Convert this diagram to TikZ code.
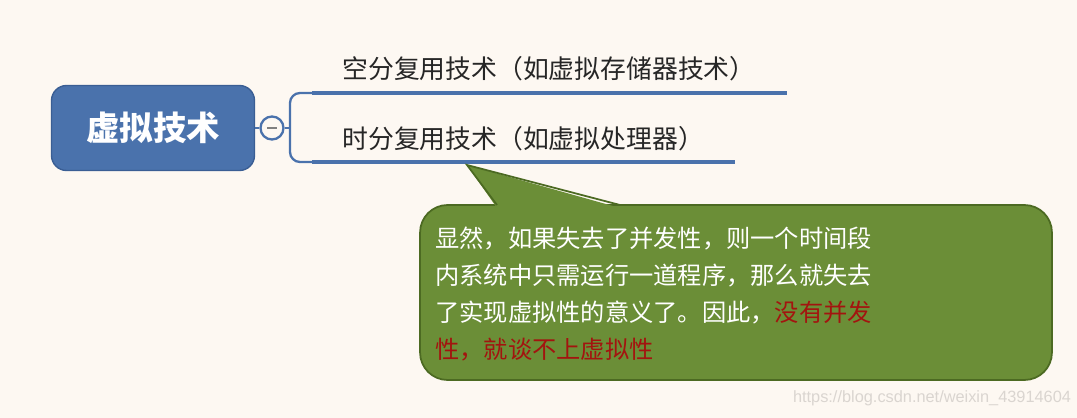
\documentclass[tikz,border=0pt]{standalone}
\usepackage{fontspec}
\newfontfamily\cjk{Noto Sans CJK SC}
\setsansfont{Liberation Sans}

\begin{document}
\begin{tikzpicture}[x=0.02cm, y=-0.02cm]
\definecolor{PageCream}{HTML}{FDF8F2};
\definecolor{TopicBlue}{HTML}{4A72AC};
\definecolor{TopicEdge}{HTML}{3A5E94};
\definecolor{NoteGreen}{HTML}{6B8E37};
\definecolor{NoteEdge}{HTML}{4C6A22};
\definecolor{AlertRed}{HTML}{A3140F};
\definecolor{MarkGray}{HTML}{DAD5D0};

\tikzset{
  mainbox/.style={draw=TopicEdge, line width=0.8pt, fill=TopicBlue, rounded corners=0.3cm,
    minimum width=4.06cm, minimum height=1.7cm, text=white, font=\cjk\bfseries\fontsize{19}{22}\selectfont},
  togglebox/.style={circle, draw=TopicBlue, line width=1.3pt, fill=PageCream, minimum size=0.46cm, inner sep=0pt},
  branch/.style={draw=TopicBlue, line width=1.3pt},
  topicline/.style={draw=TopicBlue, line width=2.8pt},
  topictext/.style={anchor=west, inner sep=0pt, font=\cjk\fontsize{14.7}{16}\selectfont, text=black!85},
  notebox/.style={draw=NoteEdge, line width=1pt, fill=NoteGreen, rounded corners=0.55cm,
    minimum width=12.64cm, minimum height=3.5cm},
  notetext/.style={anchor=north west, inner sep=0pt, align=left, text=white,
    font=\cjk\fontsize{13.8}{21}\selectfont}
}

% background
\fill[PageCream] (0,0) rectangle (1077,418);

% central topic
\node[mainbox] (virt) at (153,128) {虚拟技术};
\node[togglebox] (tog) at (272,128) {};
\draw[gray, line width=1.3pt] ([xshift=-0.1cm]tog.center) -- ([xshift=0.1cm]tog.center);

% branches
\coordinate (fork) at (290,128);
\coordinate (up) at (312,93);
\coordinate (down) at (312,162);
\coordinate (upend) at (787,93);
\coordinate (downend) at (735,162);
\draw[branch] (virt.east) -- (tog.west);
\draw[branch] (tog.east) -- (fork);
\draw[branch, rounded corners=0.2cm] (up) -- (290,93) -- (290,162) -- (down);
\draw[topicline] (up) -- (upend);
\draw[topicline] (down) -- (downend);

\node[topictext] (space) at (342,69) {空分复用技术（如虚拟存储器技术）};
\node[topictext] (time) at (342,139) {时分复用技术（如虚拟处理器）};

% callout
\node[notebox] (note) at (736,292.5) {};
\coordinate (tip) at (467,165);
\fill[NoteGreen] (497,208) -- (tip) -- (620,208) -- cycle;
\draw[NoteEdge, line width=1pt] (497,205) -- (tip) -- (620,205);
\node[notetext] (notetxt) at (435,227) {显然，如果失去了并发性，则一个时间段\\
内系统中只需运行一道程序，那么就失去\\
了实现虚拟性的意义了。因此，\textcolor{AlertRed}{没有并发}\\
\textcolor{AlertRed}{性，就谈不上虚拟性}};

% watermark
\node[text=MarkGray, font=\sffamily\fontsize{9.3}{11}\selectfont, inner sep=0pt] (mark) at (932,398) {https://blog.csdn.net/weixin\_43914604};
\end{tikzpicture}
\end{document}
